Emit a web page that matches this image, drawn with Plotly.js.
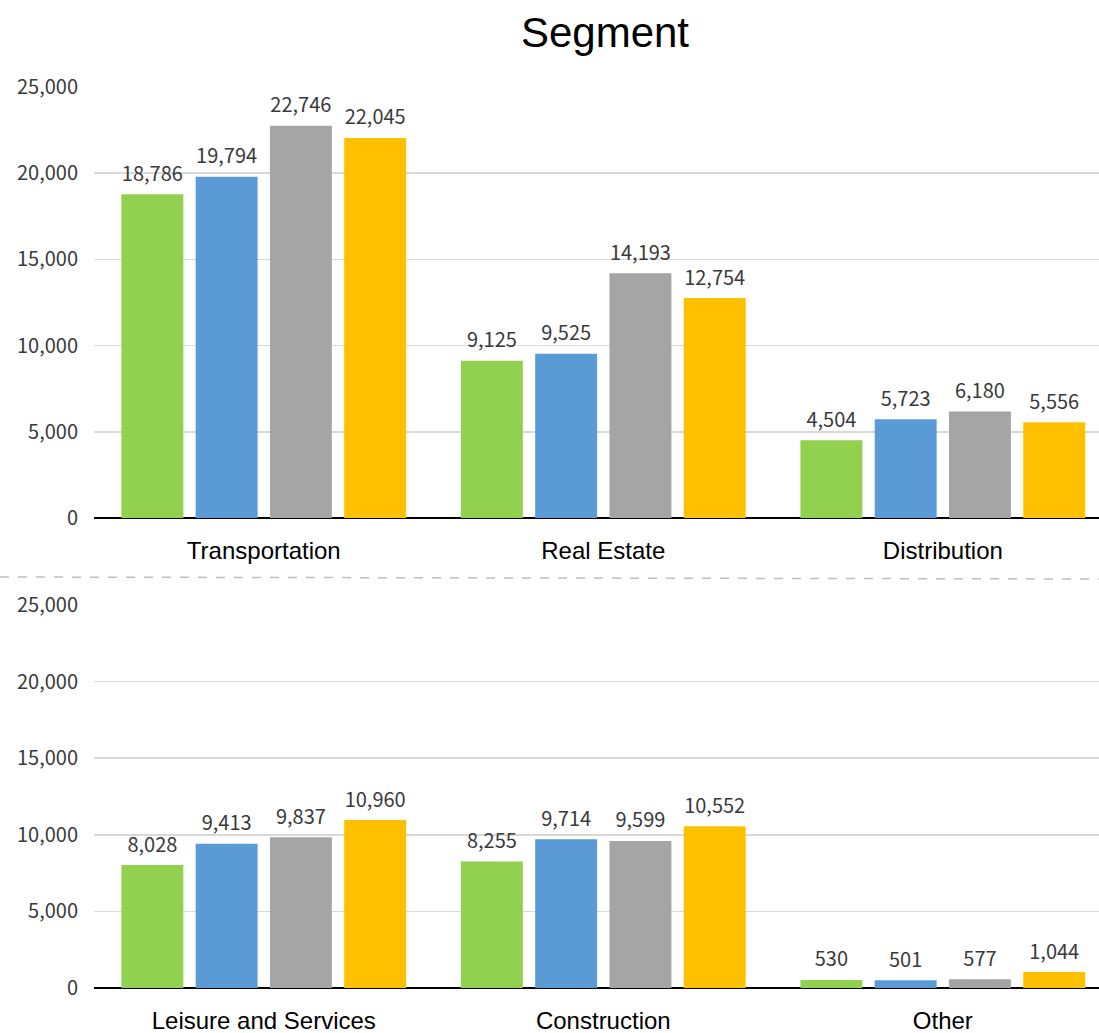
<!DOCTYPE html>
<html>
<head>
<meta charset="utf-8">
<script src="https://cdn.plot.ly/plotly-3.0.1.min.js"></script>
<style>html,body{margin:0;padding:0;background:#fff;overflow:hidden}#chart{width:1099px;height:1033px}</style>
</head>
<body>
<div id="chart"></div>
<script>
const topCategories = ["Transportation", "Real Estate", "Distribution"];
const bottomCategories = ["Leisure and Services", "Construction", "Other"];
const seriesNames = ["Series 1", "Series 2", "Series 3", "Series 4"];
const seriesColors = ["#92d050", "#5b9bd5", "#a5a5a5", "#ffc000"];
const topValues = [
  [18786, 9125, 4504],
  [19794, 9525, 5723],
  [22746, 14193, 6180],
  [22045, 12754, 5556]
];
const bottomValues = [
  [8028, 8255, 530],
  [9413, 9714, 501],
  [9837, 9599, 577],
  [10960, 10552, 1044]
];
const yTickVals = [0, 5000, 10000, 15000, 20000, 25000];

const numFont = {family: "Noto Sans CJK KR, Liberation Sans, sans-serif", size: 20, color: "#3a3a3a"};
const traces = [];
function addSet(cats, vals, xa, ya) {
  vals.forEach((v, i) => {
    traces.push({
      type: "bar", x: cats, y: v, name: seriesNames[i], xaxis: xa, yaxis: ya,
      marker: {color: seriesColors[i]}, offsetgroup: String(i), showlegend: false,
      hoverinfo: "x+y"
    });
  });
  vals.forEach((v, i) => {
    traces.push({
      type: "scatter", mode: "markers+text", x: cats, y: v, name: seriesNames[i], xaxis: xa, yaxis: ya,
      marker: {size: 12, opacity: 0}, text: v.map(n => n.toLocaleString("en-US")),
      textposition: "top center", textfont: numFont, offsetgroup: String(i),
      showlegend: false, hoverinfo: "skip", cliponaxis: false
    });
  });
}
addSet(topCategories, topValues, "x", "y");
addSet(bottomCategories, bottomValues, "x2", "y2");

const H = 1033, W = 1099;
const xaxisBase = {
  range: [-0.5, 2.46], showgrid: false, showline: false, zeroline: false, ticks: "",
  tickfont: {family: "Liberation Sans, Arial, sans-serif", size: 24, color: "#000"},
  ticklabelstandoff: 16, fixedrange: true
};
const yaxisBase = {
  range: [0, 25000], tickvals: yTickVals, tickformat: ",d",
  showgrid: true, gridcolor: "#d9d9d9", gridwidth: 1.5,
  zeroline: true, zerolinecolor: "#000", zerolinewidth: 2,
  showline: false, ticks: "", tickfont: numFont, ticklabelstandoff: 15, fixedrange: true
};
const layout = {
  width: W, height: H,
  margin: {l: 0, r: 0, t: 0, b: 0},
  paper_bgcolor: "#fff", plot_bgcolor: "#fff",
  barmode: "group", bargap: 0.125, bargroupgap: 0.166,
  scattermode: "group", scattergap: 0.125,
  showlegend: false,
  title: {text: "Segment", font: {family: "Liberation Sans, Arial, sans-serif", size: 42, color: "#000"},
          x: 605 / W, xanchor: "center", xref: "paper", y: 1 - 32 / H, yanchor: "middle", yref: "paper"},
  xaxis: Object.assign({}, xaxisBase, {domain: [94 / W, 1], anchor: "y"}),
  yaxis: Object.assign({}, yaxisBase, {domain: [1 - 518 / H, 1 - 87 / H], anchor: "x"}),
  xaxis2: Object.assign({}, xaxisBase, {domain: [94 / W, 1], anchor: "y2"}),
  yaxis2: Object.assign({}, yaxisBase, {domain: [1 - 988 / H, 1 - 605 / H], anchor: "x2"}),
  shapes: [{
    type: "line", xref: "paper", yref: "paper", x0: 0, x1: 1, y0: 1 - 577 / H, y1: 1 - 579 / H,
    line: {color: "#bfbfbf", width: 1.5, dash: "dash"}
  }]
};
Plotly.newPlot("chart", traces, layout, {displayModeBar: false, staticPlot: true});
</script>
</body>
</html>
